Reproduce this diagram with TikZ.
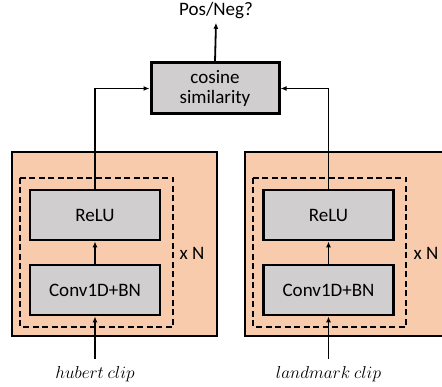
\documentclass[tikz,border=0pt]{standalone}
\usepackage{fontspec}
\setmainfont{Carlito}
\usetikzlibrary{arrows.meta}
\definecolor{peach}{HTML}{F8CBAD}
\definecolor{boxgray}{HTML}{D0CECE}
\begin{document}
\begin{tikzpicture}[x=1pt,y=-1pt,
  outerbox/.style={fill=peach,draw=black,line width=2.6pt},
  dashbox/.style={draw=black,line width=2pt,dash pattern=on 6pt off 3.5pt},
  layerbox/.style={fill=boxgray,draw=black,line width=2.8pt,minimum width=130pt,minimum height=50pt,inner sep=0pt,font=\fontsize{19}{22}\selectfont},
  simbox/.style={fill=boxgray,draw=black,line width=3pt,minimum width=128pt,minimum height=51pt,inner sep=0pt,align=center,font=\fontsize{19}{23}\selectfont},
  conn/.style={line width=1.8pt,-{Latex[length=6pt,width=5pt]}},
  lbl/.style={font=\fontsize{19}{22}\selectfont},
  clip/.style={font=\fontsize{17}{20}\selectfont}]
\useasboundingbox (0,0) rectangle (442,387);
% outer boxes
\begin{scope}
\clip (0,0) rectangle (442,387);
\draw[outerbox] (12,152) rectangle (217,336);
\draw[outerbox] (245,152) rectangle (460,336);
\end{scope}
\draw[dashbox] (20,178) rectangle (173,327);
\draw[dashbox] (253,178) rectangle (406,327);
% layers
\node[layerbox] (reluL) at (95,215) {ReLU};
\node[layerbox] (convL) at (95,290) {Conv1D+BN};
\node[layerbox] (reluR) at (328.5,215) {ReLU};
\node[layerbox] (convR) at (328.5,290) {Conv1D+BN};
\node[lbl] (xnL) at (192,253) {x N};
\node[lbl] (xnR) at (426,253) {x N};
% similarity
\node[simbox] (sim) at (215,88.5) {cosine\\[-3pt]similarity};
\node[lbl] (out) at (216,11) {Pos/Neg?};
% inputs
\node[clip] (inL) at (95,374) {$hubert~clip$};
\node[clip] (inR) at (328.5,374) {$landmark~clip$};
\coordinate (inLs) at (95,359);
\coordinate (inRs) at (328.5,359);
% connectors
\draw[conn] (inLs) -- (convL.south);
\draw[conn] (inRs) -- (convR.south);
\draw[conn] (convL.north) -- (reluL.south);
\draw[conn] (convR.north) -- (reluR.south);
\draw[conn] (reluL.north) |- (sim.west);
\draw[conn] (reluR.north) |- (sim.east);
\draw[conn] (sim.north) -- (out.south);
\end{tikzpicture}
\end{document}
